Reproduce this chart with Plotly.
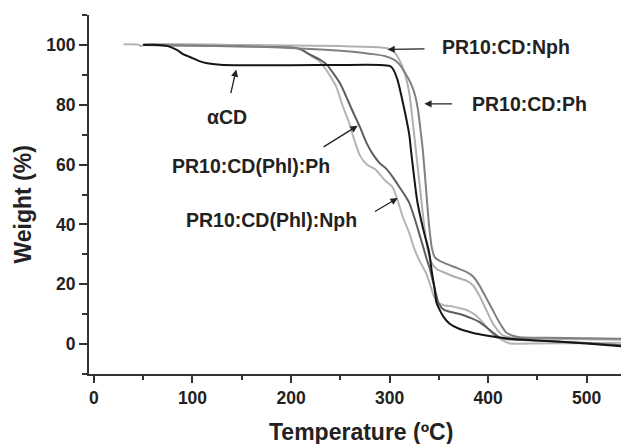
import plotly.graph_objects as go

# ---- data ----
acd_T = [50, 65, 75, 85, 90, 100, 107, 115, 128, 150, 200, 250, 290, 300, 303, 308, 314, 320, 322, 328, 332, 336, 340, 343, 345.5, 347.5, 350, 355, 361, 370, 384, 398, 420, 445, 500, 545]
acd_W = [100, 100, 99.6, 98.2, 97, 95.6, 94.6, 93.9, 93.4, 93.2, 93.2, 93.3, 93.3, 93.0, 92.2, 88.4, 80, 70, 64, 48, 41.5, 36, 31, 24, 19, 14, 12, 9, 6.8, 5.2, 3.8, 2.9, 1.9, 1.3, 0.2, -1.0]

nph_T = [50, 150, 250, 290, 300, 305, 310, 315, 320, 323, 327, 331, 335, 339, 343, 348, 355, 365, 378, 385, 391, 398, 404, 410, 415, 425, 450, 545]
nph_W = [100.2, 100, 99.6, 99.2, 98.6, 97.5, 95, 91, 84, 76, 64, 52, 40, 31, 27, 25, 24, 22.6, 21.2, 19.5, 16.3, 11.5, 7.4, 4.5, 2.9, 2.1, 1.8, 1.4]

ph_T = [50, 150, 230, 260, 281, 295, 305, 310, 316, 322, 326, 329, 332, 334, 337, 340, 343, 346, 351, 357, 368, 378, 385, 391, 398, 404, 411, 418, 425, 432, 460, 545]
ph_W = [100, 99.6, 98.5, 97.8, 97, 96.3, 95, 93.5, 90.5, 86.8, 83, 78, 70, 64, 52, 40, 32, 29, 27.8, 26.9, 25.5, 24.1, 22.5, 19.7, 15.5, 11.8, 7.5, 4, 2.8, 2.3, 2.1, 1.7]

phlph_T = [50, 100, 150, 200, 210, 219, 228, 236, 243, 250, 257, 263, 270, 277, 283, 290, 297, 304, 310, 316, 320, 325, 330, 337, 341, 344, 347, 350, 355, 362, 372, 384, 391, 398, 405, 411, 420, 450, 500, 545]
phlph_W = [100, 99.8, 99.5, 99.2, 98.5, 96.8, 95.3, 93.5, 90.5, 87, 82, 77.5, 72.5, 67, 63.5, 60.5, 58.5, 55.5, 52.5, 49.5, 47.2, 42.5, 37.1, 29.2, 25, 21, 17, 13.5, 11.5, 10.7, 10, 8.5, 7.4, 5.7, 3.8, 2.3, 1.6, 1.2, 0.4, -0.6]

phlnph_T = [30, 45, 48, 51, 100, 150, 190, 205, 215, 222, 229, 235, 239, 246, 252, 259, 263, 270, 277, 286, 296, 303, 308, 314, 320, 325, 330, 337, 341, 345, 349, 355, 365, 378, 386, 394, 400, 406, 412, 421, 450, 500, 545]
phlnph_W = [100.2, 100.1, 99.6, 100.2, 100.1, 99.9, 99.5, 99, 97.5, 96, 94.5, 92, 90, 86, 80, 74, 69.5, 63, 60, 58.3, 54.5, 52.5, 48.2, 42, 37.1, 32, 28.1, 23.8, 20, 16, 14, 13, 12.5, 11.4, 10, 7.5, 5, 3, 1.8, 0.3, 0.2, 0.3, 0.5]

x_ticks = [0, 100, 200, 300, 400, 500]
y_ticks = [0, 20, 40, 60, 80, 100]

series = [
    ("PR10:CD(Phl):Nph", phlnph_T, phlnph_W, "#b5b5b5"),
    ("PR10:CD(Phl):Ph", phlph_T, phlph_W, "#5e5e5e"),
    ("PR10:CD:Nph", nph_T, nph_W, "#b0b0b0"),
    ("PR10:CD:Ph", ph_T, ph_W, "#808080"),
    ("αCD", acd_T, acd_W, "#151515"),
]

# label: (text x, text y, arrow tail x, tail y, arrow tip x, tip y) in data units
labels = [
    ("αCD", 134.6, 76.0, 138.6, 83.4, 144.4, 91.8),
    ("PR10:CD:Nph", 418.0, 99.3, 337.0, 98.7, 298.0, 98.5),
    ("PR10:CD:Ph", 441.9, 80.4, 364.8, 80.3, 335.4, 80.3),
    ("PR10:CD(Phl):Ph", 159.6, 59.5, 231.6, 65.6, 267.7, 73.0),
    ("PR10:CD(Phl):Nph", 180.7, 41.5, 283.7, 44.0, 308.3, 48.8),
]

FONT = "Liberation Sans, Arial, sans-serif"
TXT = "#222222"

fig = go.Figure()
for name, t, w, c in series:
    fig.add_trace(go.Scatter(x=t, y=w, mode="lines", name=name,
                             line=dict(color=c, width=2, shape="spline", smoothing=0.6),
                             showlegend=False, hoverinfo="skip"))

ann = []
for text, tx, ty, ax, ay, hx, hy in labels:
    ann.append(dict(x=tx, y=ty, xref="x", yref="y", text=text, showarrow=False,
                    xanchor="center", yanchor="middle",
                    font=dict(family=FONT, size=19.5, color=TXT, weight="bold")))
    ann.append(dict(x=hx, y=hy, ax=ax, ay=ay, xref="x", yref="y", axref="x", ayref="y",
                    text="", showarrow=True, arrowhead=2, arrowsize=1.1, arrowwidth=1.3,
                    arrowcolor="#222222", standoff=0, startstandoff=0))

ann.append(dict(x=0.5037, y=-0.1616, xref="paper", yref="paper", text="Temperature (ºC)",
                xanchor="center", yanchor="middle", showarrow=False,
                font=dict(family=FONT, size=23, color=TXT, weight="bold")))
ann.append(dict(x=-0.1222, y=0.472, xref="paper", yref="paper", text="Weight (%)",
                xanchor="center", yanchor="middle", showarrow=False, textangle=-90,
                font=dict(family=FONT, size=23, color=TXT, weight="bold")))

# the page body adds an 8px offset, so the figure is sized/margined to compensate
fig.update_layout(
    width=621, height=436,
    margin=dict(l=81, r=0, t=7, b=70, autoexpand=False),
    paper_bgcolor="white", plot_bgcolor="white",
    annotations=ann,
    xaxis=dict(range=[-5, 543], tickvals=x_ticks, ticktext=[str(v) for v in x_ticks],
               showgrid=False, zeroline=False, showline=True, linecolor="#333333", linewidth=2,
               ticks="outside", ticklen=7, tickwidth=2, tickcolor="#333333", automargin=False,
               tickfont=dict(family=FONT, size=17.5, color=TXT, weight="bold"),
               minor=dict(tickvals=[50, 150, 250, 350, 450], ticks="outside", ticklen=4,
                          tickwidth=2, tickcolor="#333333", showgrid=False)),
    yaxis=dict(range=[-10, 110], tickvals=y_ticks, ticktext=[str(v) for v in y_ticks],
               showgrid=False, zeroline=False, showline=True, linecolor="#333333", linewidth=2,
               ticks="outside", ticklen=8, tickwidth=2, tickcolor="#333333", automargin=False,
               tickfont=dict(family=FONT, size=17.5, color=TXT, weight="bold"),
               minor=dict(tickvals=[-10, 10, 30, 50, 70, 90, 110], ticks="outside", ticklen=5,
                          tickwidth=2, tickcolor="#333333", showgrid=False)),
)

fig.write_html("out.html")
